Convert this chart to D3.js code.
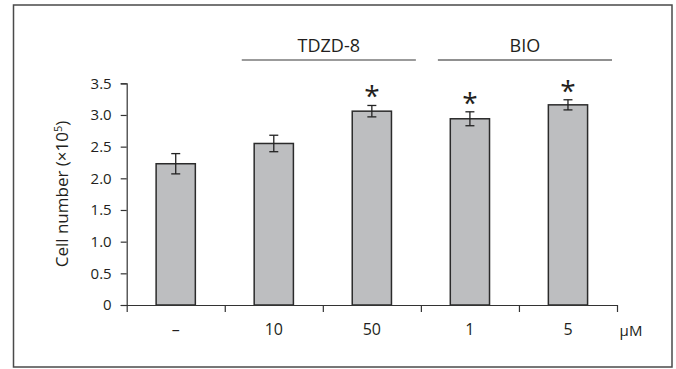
<!DOCTYPE html>
<html>
<head>
<meta charset="utf-8">
<script src="https://cdn.jsdelivr.net/npm/d3@7"></script>
<style>
  html, body { margin: 0; padding: 0; background: #fff; }
  svg { display: block; font-family: "Open Sans", "Noto Sans", sans-serif; }
</style>
</head>
<body>
<svg id="chart" width="676" height="369"></svg>
<script>
// ---- data ----
const categories = ["–", "10", "50", "1", "5"];
const values     = [2.23, 2.55, 3.06, 2.94, 3.16];
const errors     = [0.16, 0.13, 0.09, 0.11, 0.08];
const significant = [false, false, true, true, true];
const yTicks     = [0, 0.5, 1.0, 1.5, 2.0, 2.5, 3.0, 3.5];
const yTickLabels = ["0", "0.5", "1.0", "1.5", "2.0", "2.5", "3.0", "3.5"];
const groupLabels = ["TDZD-8", "BIO"];
const groupFrom   = [1, 3];
const groupTo     = [2, 4];
const unitLabel = "µM";
const yLabel = "Cell number (×10";
const yLabelSup = "5";

// ---- layout ----
const svg = d3.select("#chart");
const mLeft = 126.7, mRight = 617, mTop = 83.3, mBottom = 305;

svg.append("rect")
  .attr("x", 13.5).attr("y", 5).attr("width", 658.5).attr("height", 362)
  .attr("fill", "none").attr("stroke", "#4a4a4a").attr("stroke-width", 1.5);

const x = d3.scaleBand().domain(d3.range(categories.length)).range([mLeft, mRight]).paddingInner(0).paddingOuter(0);
const xb = d3.scaleLinear().domain([0, categories.length]).range([mLeft, mRight]);
const y = d3.scaleLinear().domain([0, 3.5]).range([mBottom, mTop]);

const barW = x.bandwidth() * 0.4;
const axisColor = "#333";

// y axis
const yAxis = svg.append("g")
  .attr("transform", `translate(${mLeft},0)`)
  .call(d3.axisLeft(y).tickValues(yTicks).tickSize(6).tickPadding(9)
    .tickFormat((d, i) => yTickLabels[i]));
yAxis.select(".domain").attr("stroke", axisColor).attr("stroke-width", 1.2);
yAxis.selectAll(".tick line").attr("stroke", axisColor).attr("stroke-width", 1.2);
yAxis.selectAll(".tick text").attr("font-size", 15).attr("fill", "#231f20")
  .attr("font-family", "'Open Sans', sans-serif");

// bars
svg.append("g").selectAll("rect").data(values).join("rect")
  .attr("x", (d, i) => x(i) + (x.bandwidth() - barW) / 2)
  .attr("y", d => y(d))
  .attr("width", barW)
  .attr("height", d => y(0) - y(d))
  .attr("fill", "#bdbec0")
  .attr("stroke", "#2b2b2b")
  .attr("stroke-width", 1.5);

// x axis (band boundaries)
const xAxis = svg.append("g")
  .attr("transform", `translate(0,${mBottom})`)
  .call(d3.axisBottom(xb).tickValues(d3.range(categories.length + 1)).tickSize(7).tickFormat(""));
xAxis.select(".domain").attr("stroke", axisColor).attr("stroke-width", 1.2).attr("d", `M${mLeft},0.5H${mRight}`);
xAxis.selectAll(".tick line").attr("stroke", axisColor).attr("stroke-width", 1.2);

// x labels
svg.append("g").selectAll("text").data(categories).join("text")
  .attr("x", (d, i) => x(i) + x.bandwidth() / 2)
  .attr("y", 334.5)
  .attr("text-anchor", "middle")
  .attr("font-size", 16)
  .attr("fill", "#231f20")
  .text(d => d);

svg.append("text").attr("x", 631).attr("y", 335.5).attr("text-anchor", "middle")
  .attr("font-size", 15).attr("fill", "#231f20").text(unitLabel);

// error bars
const eb = svg.append("g").attr("stroke", "#222").attr("stroke-width", 1.3);
values.forEach((v, i) => {
  const cx = x(i) + x.bandwidth() / 2;
  const e = errors[i];
  eb.append("line").attr("x1", cx).attr("x2", cx).attr("y1", y(v + e)).attr("y2", y(v - e));
  eb.append("line").attr("x1", cx - 4.5).attr("x2", cx + 4.5).attr("y1", y(v + e)).attr("y2", y(v + e));
  eb.append("line").attr("x1", cx - 4.5).attr("x2", cx + 4.5).attr("y1", y(v - e)).attr("y2", y(v - e));
});

// asterisks
svg.append("g").selectAll("text").data(values.map((v, i) => i).filter(i => significant[i])).join("text")
  .attr("x", i => x(i) + x.bandwidth() / 2)
  .attr("y", i => y(values[i] + errors[i]) + 1)
  .attr("text-anchor", "middle")
  .attr("font-size", 28)
  .attr("fill", "#231f20")
  .text("*");

// group lines and labels
groupLabels.forEach((g, k) => {
  const x1 = x(groupFrom[k]) + 17;
  const x2 = x(groupTo[k]) + x.bandwidth() - 5;
  svg.append("line").attr("x1", x1).attr("x2", x2).attr("y1", 60).attr("y2", 60)
    .attr("stroke", k === 0 ? "#7a7a7a" : "#222").attr("stroke-width", k === 0 ? 1.6 : 1.2);
  svg.append("text").attr("x", (x1 + x2) / 2).attr("y", 51.5)
    .attr("text-anchor", "middle").attr("font-size", 18).attr("fill", "#231f20").text(g);
});

// y label
const yl = svg.append("text")
  .attr("transform", "translate(68,194) rotate(-90)")
  .attr("text-anchor", "middle")
  .attr("font-size", 17)
  .attr("fill", "#231f20");
yl.append("tspan").text(yLabel);
yl.append("tspan").attr("font-size", 11).attr("dy", -6).text(yLabelSup);
yl.append("tspan").attr("dy", 6).text(")");
</script>
</body>
</html>
